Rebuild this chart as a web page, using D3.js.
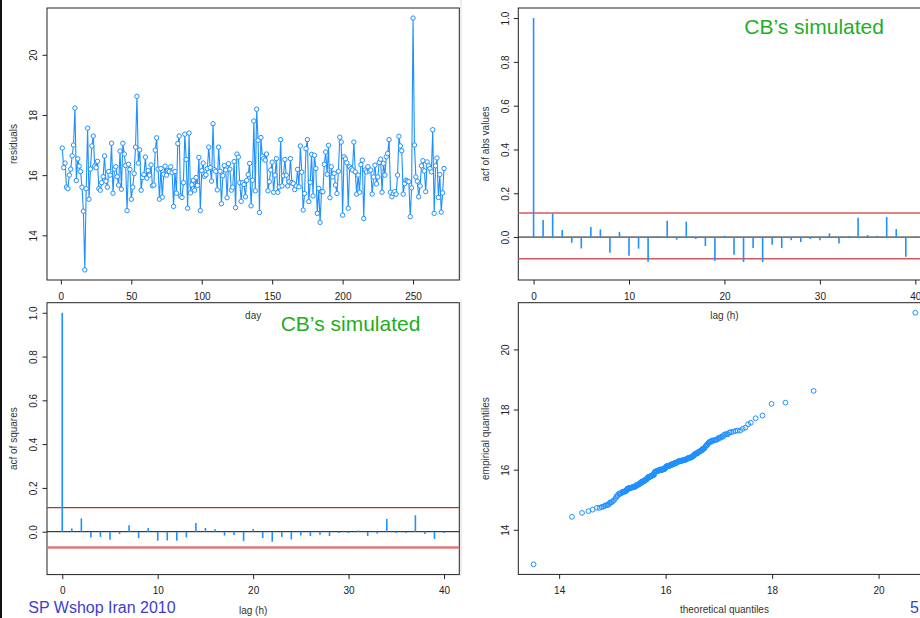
<!DOCTYPE html>
<html><head><meta charset="utf-8">
<script src="https://cdn.jsdelivr.net/npm/d3@7"></script>
<style>
body{margin:0;background:#fff}
svg{display:block;font-family:"Liberation Sans",Arial,Helvetica,sans-serif}
</style>
</head><body>
<svg id="c" width="920" height="618"></svg>
<script>
// ---------- data ----------
const residuals = [
16.9,16.25,16.4,15.6,15.55,16.0,16.2,16.64,17.0,18.23,
15.82,16.54,16.3,16.12,15.6,14.8,12.85,15.55,17.56,15.2,
16.2,16.97,17.3,16.3,16.25,16.46,15.55,15.5,15.75,15.95,
16.64,15.8,15.6,16.12,16.0,17.06,15.4,16.2,16.28,15.95,
15.67,16.8,15.53,17.06,16.7,16.32,14.82,16.36,16.19,15.2,
15.6,16.05,16.93,18.62,16.4,16.84,15.5,15.92,16.02,16.6,
15.9,16.15,16.0,16.34,15.65,15.67,16.83,17.24,16.2,15.2,
16.22,15.27,16.03,16.3,16.0,16.15,16.12,16.28,16.08,14.96,
16.12,15.4,17.05,17.3,15.3,15.26,15.75,17.36,16.52,14.9,
17.4,15.41,15.68,15.83,15.5,15.92,15.66,16.59,14.82,16.15,
16.4,15.96,16.01,16.22,16.93,16.25,15.8,17.71,16.18,16.13,
15.51,16.93,16.13,15.05,15.98,16.32,16.17,15.25,16.38,16.2,
15.5,15.6,16.45,14.92,16.7,16.6,15.75,
15.13,15.75,15.69,15.28,15.83,16.02,16.39,14.98,15.83,17.8,
15.48,18.19,17.16,14.76,17.25,16.63,16.55,16.5,16.7,15.48,
15.78,16.17,16.43,15.43,16.0,16.55,15.43,15.61,17.18,15.64,
15.98,16.52,16.0,15.64,15.78,16.55,
15.75,15.72,15.52,15.64,16.19,15.61,16.97,16.1,14.84,15.39,16.88,17.18,15.12,15.76,16.69,15.31,16.66,
16.22,14.73,15.56,14.43,15.45,15.45,16.36,16.77,16.03,16.99,15.25,16.28,15.94,16.06,
15.67,15.39,16.13,17.26,17.1,14.67,16.61,16.54,16.41,14.9,16.28,16.22,16.17,17.1,16.11,15.37,16.0,
15.43,16.35,16.5,14.56,16.17,16.11,16.28,16.14,16.17,15.37,15.94,16.33,
15.71,15.94,16.42,16.53,15.43,16.39,16.0,16.61,16.72,17.18,15.43,15.28,15.39,15.45,15.37,
16.0,17.29,16.97,16.81,15.37,15.72,15.83,15.8,15.78,14.62,15.58,
21.22,
17.0,15.94,15.8,15.28,15.64,16.31,16.48,16.14,15.45,16.44,16.31,16.22,16.11,17.51,14.73,16.31,16.57,15.26,16.02,14.77,15.41,16.22
];

const lags = d3.range(0, 41);
const acfAbs = [1.0,0.078,0.107,0.032,-0.026,-0.052,0.046,0.035,-0.072,0.024,
-0.085,-0.053,-0.113,0.003,0.075,-0.012,0.07,-0.009,-0.041,-0.108,
0.006,-0.081,-0.114,-0.05,-0.114,-0.035,-0.05,-0.014,-0.023,-0.009,
-0.014,0.017,-0.029,0.005,0.088,0.009,0.006,0.092,0.037,-0.09,0.003];
const acfSq = [1.0,0.015,0.061,-0.026,-0.024,-0.037,-0.011,0.029,-0.029,0.017,
-0.041,-0.04,-0.041,-0.026,0.04,0.017,0.011,-0.018,-0.015,-0.043,
0.012,-0.029,-0.046,-0.024,-0.035,-0.017,-0.02,-0.014,-0.02,-0.006,
-0.006,0.006,-0.02,-0.009,0.058,-0.006,-0.006,0.075,-0.011,-0.033,-0.006];
const confAbs = [0.11, -0.099];
const confSq = [0.11, -0.072];

const theoQuantiles = [
13.52,14.24,
14.43,14.55,14.63,14.71,14.76,14.80,14.83,14.86,14.88,14.91,14.93,14.95,14.97,14.99,15.01,15.03,
15.06,15.08,15.10,15.12,15.14,15.16,
15.18,15.19,15.20,15.21,15.22,15.23,15.24,15.25,15.26,15.27,15.28,15.29,15.30,15.31,15.32,15.33,
15.34,15.35,15.36,15.37,15.38,15.39,15.40,15.41,15.42,15.42,15.43,15.43,15.44,15.44,15.45,15.46,
15.47,15.48,15.48,15.49,15.50,15.50,15.51,15.52,15.52,15.53,15.54,15.54,15.55,15.56,15.56,15.57,
15.58,15.58,15.59,15.60,15.60,15.61,15.61,15.62,15.62,15.63,15.63,15.64,15.64,15.65,15.65,15.66,15.66,
15.67,15.68,15.68,15.69,15.70,15.70,15.71,15.72,15.72,15.73,15.74,15.74,15.75,15.76,15.76,15.77,
15.78,15.78,15.79,15.80,15.80,15.81,15.82,15.82,15.83,15.84,15.85,15.86,15.87,15.88,
15.89,15.90,15.91,15.91,15.92,15.93,15.93,15.94,15.95,15.95,15.96,15.97,15.97,15.98,15.98,15.99,
16.00,16.00,16.01,16.02,16.02,16.03,16.03,16.04,16.05,16.05,16.06,16.06,16.07,16.08,16.08,16.09,
16.09,16.10,16.11,16.11,16.12,16.12,16.13,16.13,16.14,16.14,16.15,16.15,16.16,16.16,16.17,16.17,
16.18,16.18,16.19,16.19,16.20,
16.21,16.22,16.23,16.24,16.25,16.26,16.27,16.28,16.29,16.30,16.31,16.32,16.33,16.34,16.35,16.36,
16.37,16.38,16.39,16.40,16.41,16.42,16.43,16.44,16.45,16.46,16.47,16.48,16.49,16.50,16.51,16.52,16.52,16.53,
16.54,16.55,16.55,16.56,16.57,16.57,16.58,16.59,16.60,16.60,16.61,16.62,16.63,16.63,16.64,16.65,
16.66,16.67,16.68,16.69,16.70,16.70,16.71,16.72,16.73,
16.75,16.76,16.77,16.78,16.79,16.80,16.81,16.83,16.84,16.86,16.87,16.89,16.91,16.93,
16.95,16.97,16.99,17.01,17.03,17.05,17.08,17.10,17.12,17.15,17.17,17.20,
17.23,17.27,17.31,17.35,17.40,17.45,17.50,
17.55,17.60,17.69,17.82,
17.99,18.25,18.78,20.69
];

const dayTicks = [0, 50, 100, 150, 200, 250];
const valueTicks = [14, 16, 18, 20];
const lagTicks = [0, 10, 20, 30, 40];
const acfTicks = [0, 0.2, 0.4, 0.6, 0.8, 1.0];

// ---------- drawing ----------
const svg = d3.select("#c");
const BLUE = "#1E90FF";
const ext = (lo, hi) => { const d = (hi - lo) * 0.04; return [lo - d, hi + d]; };

function panel(box, xd, yd, xt, yt, xfmt, yfmt, xtitle, ytitle) {
  const x = d3.scaleLinear().domain(xd).range([box.l, box.r]);
  const y = d3.scaleLinear().domain(yd).range([box.b, box.t]);
  const g = svg.append("g");
  g.append("rect").attr("x", box.l).attr("y", box.t)
    .attr("width", box.r - box.l).attr("height", box.b - box.t)
    .attr("fill", "none").attr("stroke", "#222").attr("stroke-width", 1);
  const ax = g.append("g").attr("transform", `translate(0,${box.b})`)
    .call(d3.axisBottom(x).tickValues(xt).tickSize(4.5).tickPadding(8).tickFormat(xfmt));
  ax.select(".domain").remove();
  ax.attr("font-family", null).attr("font-size", 10);
  ax.selectAll("line").attr("stroke", "#222");
  ax.selectAll("text").attr("fill", "#222");
  const ay = g.append("g").attr("transform", `translate(${box.l},0)`)
    .call(d3.axisLeft(y).tickValues(yt).tickSize(4.5).tickFormat(yfmt));
  ay.select(".domain").remove();
  ay.attr("font-family", null).attr("font-size", 10);
  ay.selectAll("line").attr("stroke", "#222");
  ay.selectAll("text").attr("x", 0).attr("dy", null).attr("fill", "#222")
    .attr("text-anchor", "middle").attr("transform", "translate(-9.7,0) rotate(-90)");
  g.append("text").attr("x", (box.l + box.r) / 2).attr("y", box.b + 39)
    .attr("text-anchor", "middle").attr("font-size", 10).attr("fill", "#333").text(xtitle);
  g.append("text").attr("transform", `translate(${box.l - 29.7},${(box.t + box.b) / 2}) rotate(-90)`)
    .attr("text-anchor", "middle").attr("font-size", 10).attr("fill", "#333").text(ytitle);
  return { x, y, g };
}

// decorations of the slide
svg.append("rect").attr("x", 0).attr("y", 0).attr("width", 2).attr("height", 618).attr("fill", "#111");
svg.append("line").attr("x1", 461).attr("x2", 461).attr("y1", 0).attr("y2", 281).attr("stroke", "#dcdcdc");
svg.append("line").attr("x1", 461).attr("x2", 461).attr("y1", 300).attr("y2", 576).attr("stroke", "#dcdcdc");

const fmtInt = d3.format("d");
const fmt1 = d3.format(".1f");

// 1) time series of residuals
{
  const p = panel({ l: 47, r: 459.3, t: 8, b: 280 }, ext(1, residuals.length), ext(d3.min(residuals), d3.max(residuals)),
    dayTicks, valueTicks, fmtInt, fmtInt, "day", "residuals");
  const line = d3.line().x((d, i) => p.x(i + 1)).y(d => p.y(d));
  p.g.append("path").datum(residuals).attr("d", line).attr("fill", "none").attr("stroke", BLUE).attr("stroke-width", 1.1);
  p.g.selectAll("circle.pt").data(residuals).join("circle").attr("class", "pt")
    .attr("cx", (d, i) => p.x(i + 1)).attr("cy", d => p.y(d)).attr("r", 2.2)
    .attr("fill", "#fff").attr("stroke", BLUE).attr("stroke-width", 1);
}

// ACF helper
function acfPanel(box, vals, conf, ytitle, confStyles) {
  const p = panel(box, ext(0, 40), ext(-0.15, 1), lagTicks, acfTicks, fmtInt, fmt1, "lag (h)", ytitle);
  p.g.append("line").attr("x1", box.l).attr("x2", box.r).attr("y1", p.y(0)).attr("y2", p.y(0))
    .attr("stroke", "#111").attr("stroke-width", 1);
  conf.forEach((c, i) => {
    p.g.append("line").attr("x1", box.l).attr("x2", box.r).attr("y1", p.y(c)).attr("y2", p.y(c))
      .attr("stroke", confStyles[i].c).attr("stroke-width", confStyles[i].w);
  });
  p.g.selectAll("line.bar").data(vals).join("line").attr("class", "bar")
    .attr("x1", (d, i) => p.x(lags[i])).attr("x2", (d, i) => p.x(lags[i]))
    .attr("y1", p.y(0)).attr("y2", d => p.y(d))
    .attr("stroke", BLUE).attr("stroke-width", 1.6);
}

// 2) acf of abs values
acfPanel({ l: 518.3, r: 930.6, t: 8, b: 280 }, acfAbs, confAbs, "acf of abs values",
  [{ c: "#d05a5a", w: 1.5 }, { c: "#d05a5a", w: 1.5 }]);

// 3) acf of squares
acfPanel({ l: 47, r: 459.3, t: 302.7, b: 574.6 }, acfSq, confSq, "acf of squares",
  [{ c: "#c42a2a", w: 1.1 }, { c: "#e07a7a", w: 2.4 }]);

// 4) QQ plot
{
  const emp = d3.sort(residuals);
  const n = Math.min(emp.length, theoQuantiles.length);
  const p = panel({ l: 518.3, r: 930.6, t: 302.7, b: 574.4 },
    ext(d3.min(theoQuantiles), d3.max(theoQuantiles)), ext(d3.min(emp), d3.max(emp)),
    valueTicks, valueTicks, fmtInt, fmtInt, "theoretical quantiles", "empirical quantiles");
  p.g.selectAll("circle.q").data(d3.range(n)).join("circle").attr("class", "q")
    .attr("cx", i => p.x(theoQuantiles[i])).attr("cy", i => p.y(emp[i])).attr("r", 2.4)
    .attr("fill", "none").attr("stroke", BLUE).attr("stroke-width", 1);
}

// annotations
svg.append("text").attr("x", 744.3).attr("y", 34).attr("font-size", 21).attr("fill", "#1fae1f").text("CB\u2019s simulated");
svg.append("text").attr("x", 280.7).attr("y", 330.7).attr("font-size", 21).attr("fill", "#1fae1f").text("CB\u2019s simulated");
svg.append("text").attr("x", 28.3).attr("y", 613).attr("font-size", 16).attr("fill", "#3d3dcf").text("SP Wshop Iran 2010");
svg.append("text").attr("x", 910).attr("y", 613).attr("font-size", 16).attr("fill", "#3d3dcf").text("5");
</script>
</body></html>
